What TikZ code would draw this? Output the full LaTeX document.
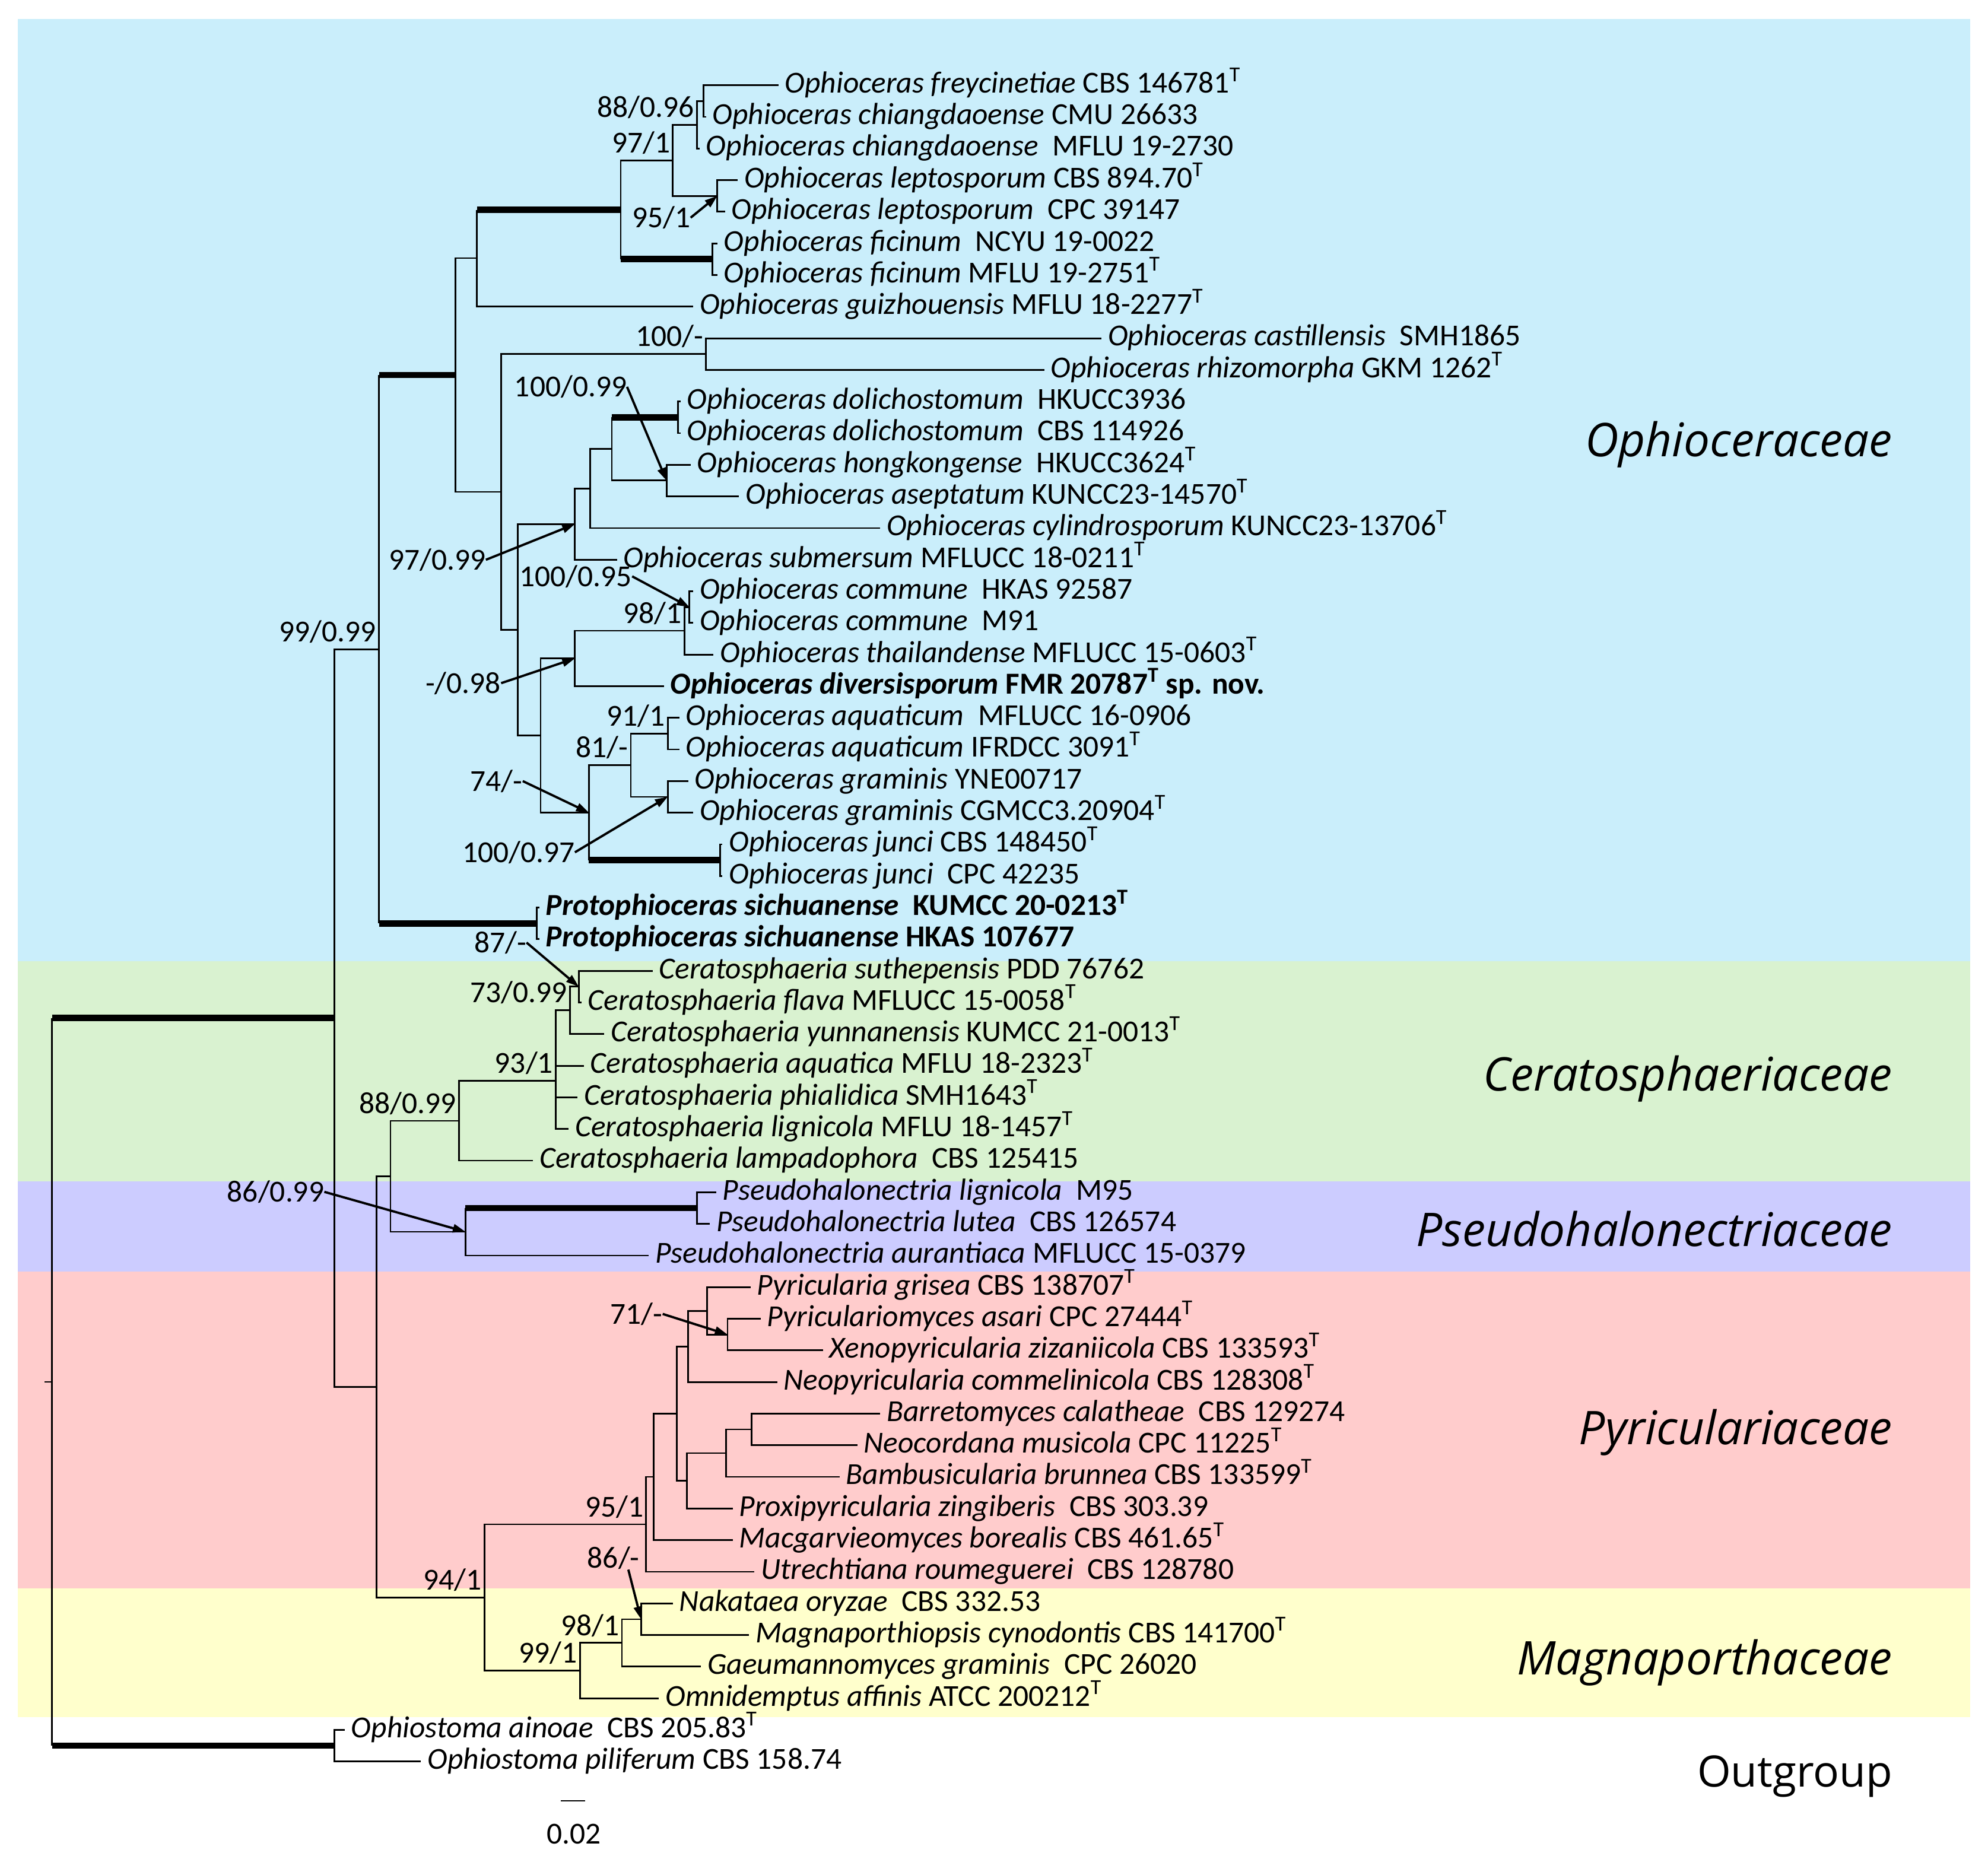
\documentclass[tikz,border=0pt]{standalone}
\usepackage{fontspec}
\setmainfont{Carlito}
\newfontfamily\famfont{Open Sans}
\usetikzlibrary{arrows.meta}
\definecolor{bandblue}{RGB}{202,238,251}
\definecolor{bandgreen}{RGB}{217,242,208}
\definecolor{bandpurple}{RGB}{204,204,255}
\definecolor{bandpink}{RGB}{255,204,204}
\definecolor{bandyellow}{RGB}{255,255,204}
\newcommand{\Ty}{\textsuperscript{T}}
\newcommand{\lblfont}{\fontsize{24}{28}\selectfont}
\newcommand{\famsize}{\fontsize{36.5}{42}\selectfont}
\newcommand{\outsize}{\fontsize{34}{40}\selectfont}
\newcommand{\edg}[2]{\draw[br] (#1) |- (#2);}
\newcommand{\tedg}[2]{\draw[br] (#1) -- (#1|-#2); \draw[thickbr] (#1|-#2) -- (#2);}
\tikzset{
  br/.style={line width=1.3pt, line cap=butt, line join=miter},
  thickbr/.style={line width=5pt, line cap=butt},
  leaf/.style={anchor=base west, inner sep=0pt, font=\lblfont},
  sup/.style={anchor=base east, inner sep=0pt, font=\lblfont},
  suparrow/.style={line width=1.8pt, -{Triangle[length=10pt,width=6.5pt]}},
  fam/.style={anchor=base east, inner sep=0pt, font=\famfont\famsize\itshape},
  outfam/.style={anchor=base east, inner sep=0pt, font=\famfont\outsize}
}
\begin{document}
\begin{tikzpicture}[x=1pt,y=-1pt]
\useasboundingbox (0,0) rectangle (1563,1459.4);
% background bands
\fill[bandblue] (14,15) rectangle (1549,756);
\fill[bandgreen] (14,756) rectangle (1549,929);
\fill[bandpurple] (14,929) rectangle (1549,1000);
\fill[bandpink] (14,1000) rectangle (1549,1249);
\fill[bandyellow] (14,1249) rectangle (1549,1350);

% internal nodes
\coordinate (root) at (41,1086.6);
\coordinate (rootstub) at (35,1086.6);
\coordinate (n263) at (263,800.5);
\coordinate (n263o) at (263,1372.65);
\coordinate (n298) at (298,510.5);
\coordinate (n358) at (358,294.9);
\coordinate (n375) at (375,203.0);
\coordinate (n488) at (488,164.95);
\coordinate (n529) at (529,126.1);
\coordinate (n548) at (548,98.1);
\coordinate (n553) at (553,79.45);
\coordinate (n564) at (564,154.05);
\coordinate (n560) at (560,203.8);
\coordinate (n394) at (394,386.8);
\coordinate (n555) at (555,278.4);
\coordinate (n407) at (407,495.25);
\coordinate (n452a) at (452,412.1);
\coordinate (n464) at (464,384.1);
\coordinate (n481) at (481,353.0);
\coordinate (n533) at (533,328.15);
\coordinate (n524) at (524,377.85);
\coordinate (n425) at (425,578.4);
\coordinate (n452b) at (452,517.75);
\coordinate (n538) at (538,496.0);
\coordinate (n542) at (542,477.35);
\coordinate (n463) at (463,639.0);
\coordinate (n496) at (496,601.7);
\coordinate (n525a) at (525,576.85);
\coordinate (n525b) at (525,626.55);
\coordinate (n566) at (566,676.35);
\coordinate (n422) at (422,726.05);
\coordinate (n296) at (296,1090.5);
\coordinate (n307) at (307,924.9);
\coordinate (n361) at (361,881.3);
\coordinate (n437) at (437,850);
\coordinate (n448) at (448,794.45);
\coordinate (n455) at (455,775.8);
\coordinate (n366) at (366,968.55);
\coordinate (n548p) at (548,949.9);
\coordinate (n381) at (381,1256.1);
\coordinate (n508) at (508,1198.6);
\coordinate (n514) at (514,1161.3);
\coordinate (n532) at (532,1111.55);
\coordinate (n541) at (541,1058.7);
\coordinate (n556) at (556,1030.7);
\coordinate (n572) at (572,1049.35);
\coordinate (n540) at (540,1164.4);
\coordinate (n571) at (571,1142.6);
\coordinate (n591) at (591,1123.95);
\coordinate (n456) at (456,1313.6);
\coordinate (n489) at (489,1291.85);
\coordinate (n504) at (504,1273.2);

% leaf tips
\coordinate (t0) at (612,67.0);
\coordinate (t1) at (555,91.9);
\coordinate (t2) at (550,116.7);
\coordinate (t3) at (580,141.6);
\coordinate (t4) at (570,166.5);
\coordinate (t5) at (564,191.4);
\coordinate (t6) at (564,216.2);
\coordinate (t7) at (545,241.1);
\coordinate (t8) at (866,266.0);
\coordinate (t9) at (821,290.8);
\coordinate (t10) at (535,315.7);
\coordinate (t11) at (535,340.6);
\coordinate (t12) at (543,365.4);
\coordinate (t13) at (581,390.3);
\coordinate (t14) at (692,415.2);
\coordinate (t15) at (485,440.1);
\coordinate (t16) at (545,464.9);
\coordinate (t17) at (545,489.8);
\coordinate (t18) at (561,514.7);
\coordinate (t19) at (522,539.5);
\coordinate (t20) at (534,564.4);
\coordinate (t21) at (534,589.3);
\coordinate (t22) at (541,614.1);
\coordinate (t23) at (545,639.0);
\coordinate (t24) at (568,663.9);
\coordinate (t25) at (568,688.8);
\coordinate (t26) at (424,713.6);
\coordinate (t27) at (424,738.5);
\coordinate (t28) at (513,763.4);
\coordinate (t29) at (457,788.2);
\coordinate (t30) at (475,813.1);
\coordinate (t31) at (459,838.0);
\coordinate (t32) at (454,862.8);
\coordinate (t33) at (447,887.7);
\coordinate (t34) at (419,912.6);
\coordinate (t35) at (563,937.5);
\coordinate (t36) at (558,962.3);
\coordinate (t37) at (510,987.2);
\coordinate (t38) at (590,1012.1);
\coordinate (t39) at (598,1036.9);
\coordinate (t40) at (647,1061.8);
\coordinate (t41) at (611,1086.7);
\coordinate (t42) at (692,1111.5);
\coordinate (t43) at (674,1136.4);
\coordinate (t44) at (660,1161.3);
\coordinate (t45) at (576,1186.2);
\coordinate (t46) at (576,1211.0);
\coordinate (t47) at (593,1235.9);
\coordinate (t48) at (529,1260.8);
\coordinate (t49) at (589,1285.6);
\coordinate (t50) at (551,1310.5);
\coordinate (t51) at (518,1335.4);
\coordinate (t52) at (271,1360.2);
\coordinate (t53) at (331,1385.1);

% branches
\draw[br] (rootstub) -- (root);
\tedg{root}{n263}
\tedg{root}{n263o}
\edg{n263}{n298}
\edg{n263}{n296}
\tedg{n298}{n358}
\tedg{n298}{n422}
\edg{n358}{n375}
\edg{n358}{n394}
\tedg{n375}{n488}
\edg{n375}{t7}
\edg{n488}{n529}
\tedg{n488}{n560}
\edg{n529}{n548}
\edg{n529}{n564}
\edg{n548}{n553}
\edg{n548}{t2}
\edg{n553}{t0}
\edg{n553}{t1}
\edg{n564}{t3}
\edg{n564}{t4}
\edg{n560}{t5}
\edg{n560}{t6}
\edg{n394}{n555}
\edg{n394}{n407}
\edg{n555}{t8}
\edg{n555}{t9}
\edg{n407}{n452a}
\edg{n407}{n425}
\edg{n452a}{n464}
\edg{n452a}{t15}
\edg{n464}{n481}
\edg{n464}{t14}
\tedg{n481}{n533}
\edg{n481}{n524}
\edg{n533}{t10}
\edg{n533}{t11}
\edg{n524}{t12}
\edg{n524}{t13}
\edg{n425}{n452b}
\edg{n425}{n463}
\edg{n452b}{n538}
\edg{n452b}{t19}
\edg{n538}{n542}
\edg{n538}{t18}
\edg{n542}{t16}
\edg{n542}{t17}
\edg{n463}{n496}
\tedg{n463}{n566}
\edg{n496}{n525a}
\edg{n496}{n525b}
\edg{n525a}{t20}
\edg{n525a}{t21}
\edg{n525b}{t22}
\edg{n525b}{t23}
\edg{n566}{t24}
\edg{n566}{t25}
\edg{n422}{t26}
\edg{n422}{t27}
\edg{n296}{n307}
\edg{n296}{n381}
\edg{n307}{n361}
\edg{n307}{n366}
\edg{n361}{n437}
\edg{n361}{t34}
\edg{n437}{n448}
\edg{n437}{t31}
\edg{n437}{t32}
\edg{n437}{t33}
\edg{n448}{n455}
\edg{n448}{t30}
\edg{n455}{t28}
\edg{n455}{t29}
\tedg{n366}{n548p}
\edg{n366}{t37}
\edg{n548p}{t35}
\edg{n548p}{t36}
\edg{n381}{n508}
\edg{n381}{n456}
\edg{n508}{n514}
\edg{n508}{t47}
\edg{n514}{n532}
\edg{n514}{t46}
\edg{n532}{n541}
\edg{n532}{n540}
\edg{n541}{n556}
\edg{n541}{t41}
\edg{n556}{t38}
\edg{n556}{n572}
\edg{n572}{t39}
\edg{n572}{t40}
\edg{n540}{n571}
\edg{n540}{t45}
\edg{n571}{n591}
\edg{n571}{t44}
\edg{n591}{t42}
\edg{n591}{t43}
\edg{n456}{n489}
\edg{n456}{t51}
\edg{n489}{n504}
\edg{n489}{t50}
\edg{n504}{t48}
\edg{n504}{t49}
\edg{n263o}{t52}
\edg{n263o}{t53}

% leaf labels
\node[leaf] (L0) at ([shift={(5,6)}]t0) {\textit{Ophioceras freycinetiae} CBS 146781\Ty};
\node[leaf] (L1) at ([shift={(5,6)}]t1) {\textit{Ophioceras chiangdaoense} CMU 26633};
\node[leaf] (L2) at ([shift={(5,6)}]t2) {\textit{Ophioceras chiangdaoense}\ \ MFLU 19-2730};
\node[leaf] (L3) at ([shift={(5,6)}]t3) {\textit{Ophioceras leptosporum} CBS 894.70\Ty};
\node[leaf] (L4) at ([shift={(5,6)}]t4) {\textit{Ophioceras leptosporum}\ \ CPC 39147};
\node[leaf] (L5) at ([shift={(5,6)}]t5) {\textit{Ophioceras ficinum}\ \ NCYU 19-0022};
\node[leaf] (L6) at ([shift={(5,6)}]t6) {\textit{Ophioceras ficinum} MFLU 19-2751\Ty};
\node[leaf] (L7) at ([shift={(5,6)}]t7) {\textit{Ophioceras guizhouensis} MFLU 18-2277\Ty};
\node[leaf] (L8) at ([shift={(5,6)}]t8) {\textit{Ophioceras castillensis}\ \ SMH1865};
\node[leaf] (L9) at ([shift={(5,6)}]t9) {\textit{Ophioceras rhizomorpha} GKM 1262\Ty};
\node[leaf] (L10) at ([shift={(5,6)}]t10) {\textit{Ophioceras dolichostomum}\ \ HKUCC3936};
\node[leaf] (L11) at ([shift={(5,6)}]t11) {\textit{Ophioceras dolichostomum}\ \ CBS 114926};
\node[leaf] (L12) at ([shift={(5,6)}]t12) {\textit{Ophioceras hongkongense}\ \ HKUCC3624\Ty};
\node[leaf] (L13) at ([shift={(5,6)}]t13) {\textit{Ophioceras aseptatum} KUNCC23-14570\Ty};
\node[leaf] (L14) at ([shift={(5,6)}]t14) {\textit{Ophioceras cylindrosporum} KUNCC23-13706\Ty};
\node[leaf] (L15) at ([shift={(5,6)}]t15) {\textit{Ophioceras submersum} MFLUCC 18-0211\Ty};
\node[leaf] (L16) at ([shift={(5,6)}]t16) {\textit{Ophioceras commune}\ \ HKAS 92587};
\node[leaf] (L17) at ([shift={(5,6)}]t17) {\textit{Ophioceras commune}\ \ M91};
\node[leaf] (L18) at ([shift={(5,6)}]t18) {\textit{Ophioceras thailandense} MFLUCC 15-0603\Ty};
\node[leaf] (L19) at ([shift={(5,6)}]t19) {\textbf{\textit{Ophioceras diversisporum} FMR 20787\Ty{} sp. nov.}};
\node[leaf] (L20) at ([shift={(5,6)}]t20) {\textit{Ophioceras aquaticum}\ \ MFLUCC 16-0906};
\node[leaf] (L21) at ([shift={(5,6)}]t21) {\textit{Ophioceras aquaticum} IFRDCC 3091\Ty};
\node[leaf] (L22) at ([shift={(5,6)}]t22) {\textit{Ophioceras graminis} YNE00717};
\node[leaf] (L23) at ([shift={(5,6)}]t23) {\textit{Ophioceras graminis} CGMCC3.20904\Ty};
\node[leaf] (L24) at ([shift={(5,6)}]t24) {\textit{Ophioceras junci} CBS 148450\Ty};
\node[leaf] (L25) at ([shift={(5,6)}]t25) {\textit{Ophioceras junci}\ \ CPC 42235};
\node[leaf] (L26) at ([shift={(5,6)}]t26) {\textbf{\textit{Protophioceras sichuanense}\ \ KUMCC 20-0213\Ty}};
\node[leaf] (L27) at ([shift={(5,6)}]t27) {\textbf{\textit{Protophioceras sichuanense} HKAS 107677}};
\node[leaf] (L28) at ([shift={(5,6)}]t28) {\textit{Ceratosphaeria suthepensis} PDD 76762};
\node[leaf] (L29) at ([shift={(5,6)}]t29) {\textit{Ceratosphaeria flava} MFLUCC 15-0058\Ty};
\node[leaf] (L30) at ([shift={(5,6)}]t30) {\textit{Ceratosphaeria yunnanensis} KUMCC 21-0013\Ty};
\node[leaf] (L31) at ([shift={(5,6)}]t31) {\textit{Ceratosphaeria aquatica} MFLU 18-2323\Ty};
\node[leaf] (L32) at ([shift={(5,6)}]t32) {\textit{Ceratosphaeria phialidica} SMH1643\Ty};
\node[leaf] (L33) at ([shift={(5,6)}]t33) {\textit{Ceratosphaeria lignicola} MFLU 18-1457\Ty};
\node[leaf] (L34) at ([shift={(5,6)}]t34) {\textit{Ceratosphaeria lampadophora}\ \ CBS 125415};
\node[leaf] (L35) at ([shift={(5,6)}]t35) {\textit{Pseudohalonectria lignicola}\ \ M95};
\node[leaf] (L36) at ([shift={(5,6)}]t36) {\textit{Pseudohalonectria lutea}\ \ CBS 126574};
\node[leaf] (L37) at ([shift={(5,6)}]t37) {\textit{Pseudohalonectria aurantiaca} MFLUCC 15-0379};
\node[leaf] (L38) at ([shift={(5,6)}]t38) {\textit{Pyricularia grisea} CBS 138707\Ty};
\node[leaf] (L39) at ([shift={(5,6)}]t39) {\textit{Pyriculariomyces asari} CPC 27444\Ty};
\node[leaf] (L40) at ([shift={(5,6)}]t40) {\textit{Xenopyricularia zizaniicola} CBS 133593\Ty};
\node[leaf] (L41) at ([shift={(5,6)}]t41) {\textit{Neopyricularia commelinicola} CBS 128308\Ty};
\node[leaf] (L42) at ([shift={(5,6)}]t42) {\textit{Barretomyces calatheae}\ \ CBS 129274};
\node[leaf] (L43) at ([shift={(5,6)}]t43) {\textit{Neocordana musicola} CPC 11225\Ty};
\node[leaf] (L44) at ([shift={(5,6)}]t44) {\textit{Bambusicularia brunnea} CBS 133599\Ty};
\node[leaf] (L45) at ([shift={(5,6)}]t45) {\textit{Proxipyricularia zingiberis}\ \ CBS 303.39};
\node[leaf] (L46) at ([shift={(5,6)}]t46) {\textit{Macgarvieomyces borealis} CBS 461.65\Ty};
\node[leaf] (L47) at ([shift={(5,6)}]t47) {\textit{Utrechtiana roumeguerei}\ \ CBS 128780};
\node[leaf] (L48) at ([shift={(5,6)}]t48) {\textit{Nakataea oryzae}\ \ CBS 332.53};
\node[leaf] (L49) at ([shift={(5,6)}]t49) {\textit{Magnaporthiopsis cynodontis} CBS 141700\Ty};
\node[leaf] (L50) at ([shift={(5,6)}]t50) {\textit{Gaeumannomyces graminis}\ \ CPC 26020};
\node[leaf] (L51) at ([shift={(5,6)}]t51) {\textit{Omnidemptus affinis} ATCC 200212\Ty};
\node[leaf] (L52) at ([shift={(5,6)}]t52) {\textit{Ophiostoma ainoae}\ \ CBS 205.83\Ty};
\node[leaf] (L53) at ([shift={(5,6)}]t53) {\textit{Ophiostoma piliferum} CBS 158.74};

% support values beside nodes
\node[sup] (s1) at ([shift={(-2,-6)}]n548) {88/0.96};
\node[sup] (s2) at ([shift={(-2,-6)}]n529) {97/1};
\node[sup] (s3) at ([shift={(-2,-6)}]n555) {100/-};
\node[sup] (s4) at ([shift={(-2,-6)}]n298) {99/0.99};
\node[sup] (s5) at ([shift={(-2,-6)}]n538) {98/1};
\node[sup] (s6) at ([shift={(-2,-6)}]n525a) {91/1};
\node[sup] (s7) at ([shift={(-2,-6)}]n496) {81/-};
\node[sup] (s8) at ([shift={(-2,-6)}]n448) {73/0.99};
\node[sup] (s9) at ([shift={(-2,-6)}]n437) {93/1};
\node[sup] (s10) at ([shift={(-2,-6)}]n361) {88/0.99};
\node[sup] (s11) at ([shift={(-2,-6)}]n508) {95/1};
\node[sup] (s12) at ([shift={(-2,-6)}]n381) {94/1};
\node[sup] (s13) at ([shift={(-2,-6)}]n489) {98/1};
\node[sup] (s14) at ([shift={(-2,-6)}]n456) {99/1};

% support values with arrows
\node[sup] (a1) at (543,179) {95/1};
\node[sup] (a2) at (493,312) {100/0.99};
\node[sup] (a3) at (382,448) {97/0.99};
\node[sup] (a4) at (497,461) {100/0.95};
\node[sup] (a5) at (394,545) {-/0.98};
\node[sup] (a6) at (411,622) {74/-};
\node[sup] (a7) at (452,678) {100/0.97};
\node[sup] (a8) at (414,749) {87/-};
\node[sup] (a9) at (255,945) {86/0.99};
\node[sup] (a10) at (521,1041) {71/-};
\node[sup] (a11) at (503,1233) {86/-};
\draw[suparrow] (a1.east) -- (n564);
\draw[suparrow] (a2.east) -- (n524);
\draw[suparrow] (a3.east) -- (n452a);
\draw[suparrow] (a4.east) -- (n542);
\draw[suparrow] (a5.east) -- (n452b);
\draw[suparrow] (a6.east) -- (n463);
\draw[suparrow] (a7.east) -- (n525b);
\draw[suparrow] (a8.east) -- (n455);
\draw[suparrow] (a9.east) -- (n366);
\draw[suparrow] (a10.east) -- (n572);
\draw[suparrow] ([xshift=-9pt]a11.south east) -- (n504);

% family labels
\node[fam] (f1) at (1488,359) {Ophioceraceae};
\node[fam] (f2) at (1488,858) {Ceratosphaeriaceae};
\node[fam] (f3) at (1488,980) {Pseudohalonectriaceae};
\node[fam] (f4) at (1488,1136) {Pyriculariaceae};
\node[fam] (f5) at (1488,1317) {Magnaporthaceae};
\node[outfam] (f6) at (1488,1405) {Outgroup};

% scale bar
\coordinate (sb1) at (441,1416);
\coordinate (sb2) at (460,1416);
\draw[br] (sb1) -- (sb2);
\node[inner sep=0pt, font=\lblfont] (sbl) at (451,1442) {0.02};
\end{tikzpicture}
\end{document}
